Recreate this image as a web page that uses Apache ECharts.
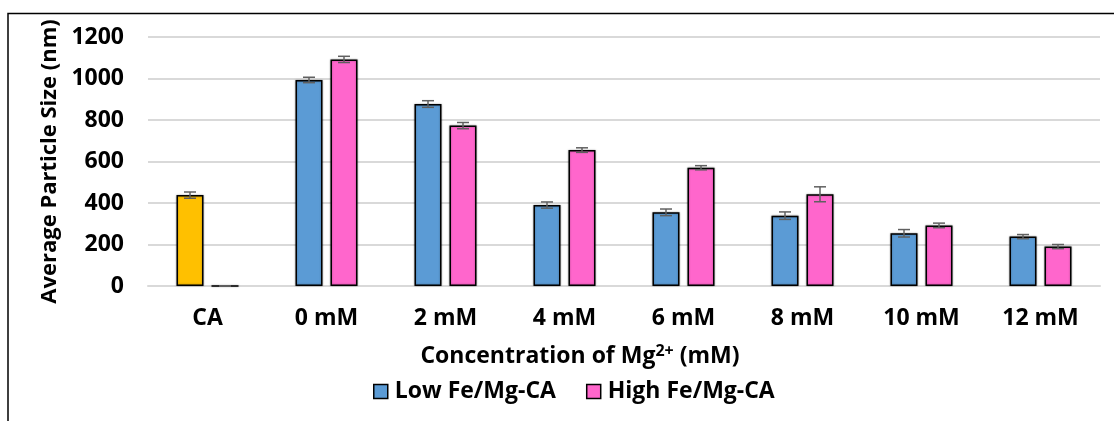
<!DOCTYPE html>
<html>
<head>
<meta charset="utf-8">
<script src="https://cdn.jsdelivr.net/npm/echarts@6/dist/echarts.min.js"></script>
<style>
html,body{margin:0;padding:0;background:#fff;}
#chart{width:1115px;height:421px;}
</style>
</head>
<body>
<div id="chart"></div>
<script>
const categories = ['CA', '0 mM', '2 mM', '4 mM', '6 mM', '8 mM', '10 mM', '12 mM'];
const lowValues  = [438, 993, 877, 390, 355, 339, 254, 238];
const lowErrors  = [15, 13, 16, 15, 16, 18, 18, 10];
const highValues = [0, 1092, 773, 655, 570, 442, 292, 190];
const highErrors = [0, 15, 15, 11, 10, 36, 11, 10];
const yTicks = [0, 200, 400, 600, 800, 1000, 1200];
const seriesNames = ['Low Fe/Mg-CA', 'High Fe/Mg-CA'];

const FONT = 'Open Sans';
const BAR_W = 27, BAR_GAP = 8;

function errData(vals, errs) {
  return vals.map((v, i) => [i, v - errs[i], v + errs[i]]);
}
function errRender(offset) {
  return function (params, api) {
    const x = api.value(0);
    const lo = api.coord([x, api.value(1)]);
    const hi = api.coord([x, api.value(2)]);
    const cx = lo[0] + offset;
    const half = 6;
    const st = { stroke: '#606060', lineWidth: 1.5 };
    return {
      type: 'group',
      children: [
        { type: 'line', shape: { x1: cx, y1: lo[1], x2: cx, y2: hi[1] }, style: st },
        { type: 'line', shape: { x1: cx - half, y1: lo[1], x2: cx + half, y2: lo[1] }, style: st },
        { type: 'line', shape: { x1: cx - half, y1: hi[1], x2: cx + half, y2: hi[1] }, style: st }
      ]
    };
  };
}

const chart = echarts.init(document.getElementById('chart'));
const off = (BAR_W + BAR_GAP) / 2;
const txt = { fontFamily: FONT, fontSize: 23, fontWeight: 700, color: '#000' };
chart.setOption({
  backgroundColor: '#fff',
  animation: false,
  textStyle: { fontFamily: FONT },
  graphic: [
    { type: 'polyline', shape: { points: [[8, 421], [8, 13.5], [1114, 13.5]] }, style: { stroke: '#000', lineWidth: 1.5, fill: null } }
  ],
  title: {
    text: 'Concentration of Mg{sup|2+} (mM)',
    left: 575, top: 338, textAlign: 'center',
    textStyle: Object.assign({}, txt, {
      rich: { sup: { fontFamily: FONT, fontSize: 16, fontWeight: 700, color: '#000', verticalAlign: 'top', padding: [0, 0, 10, 0] } }
    })
  },
  legend: {
    data: seriesNames,
    left: 368, top: 375,
    icon: 'rect', itemWidth: 14, itemHeight: 14, itemGap: 30,
    itemStyle: { borderColor: '#000', borderWidth: 1.5 },
    textStyle: Object.assign({}, txt, { padding: [0, 0, 0, 2] })
  },
  grid: { left: 148, right: 15, top: 37, bottom: 135 },
  xAxis: {
    type: 'category', data: categories,
    axisLine: { show: true, lineStyle: { color: '#d9d9d9', width: 2 } },
    axisTick: { show: false },
    axisLabel: Object.assign({}, txt, { margin: 21 })
  },
  yAxis: {
    type: 'value', min: 0, max: 1200, interval: 200,
    name: 'Average Particle Size (nm)', nameLocation: 'middle', nameRotate: 90, nameGap: 85,
    nameTextStyle: Object.assign({}, txt, { fontSize: 22 }),
    axisLine: { show: false }, axisTick: { show: false },
    splitLine: { lineStyle: { color: '#d9d9d9', width: 2 } },
    axisLabel: Object.assign({}, txt, {
      margin: 24,
      formatter: v => yTicks.includes(v) ? String(v) : ''
    })
  },
  series: [
    {
      name: seriesNames[0], type: 'bar', barWidth: BAR_W, barGap: (BAR_GAP / BAR_W * 100) + '%',
      itemStyle: { color: '#5B9BD5', borderColor: '#000', borderWidth: 1.5, shadowColor: 'rgba(0,0,0,0.35)', shadowBlur: 2 },
      data: lowValues.map((v, i) => i === 0 ? { value: v, itemStyle: { color: '#FFC000' } } : v)
    },
    {
      name: seriesNames[1], type: 'bar', barWidth: BAR_W,
      itemStyle: { color: '#FF66CC', borderColor: '#000', borderWidth: 1.5, shadowColor: 'rgba(0,0,0,0.35)', shadowBlur: 2 },
      data: highValues
    },
    {
      type: 'custom', renderItem: errRender(-off), data: errData(lowValues, lowErrors),
      encode: { x: 0, y: [1, 2] }, z: 10, silent: true
    },
    {
      type: 'custom', renderItem: errRender(off), data: errData(highValues, highErrors),
      encode: { x: 0, y: [1, 2] }, z: 10, silent: true
    }
  ]
});
</script>
</body>
</html>
